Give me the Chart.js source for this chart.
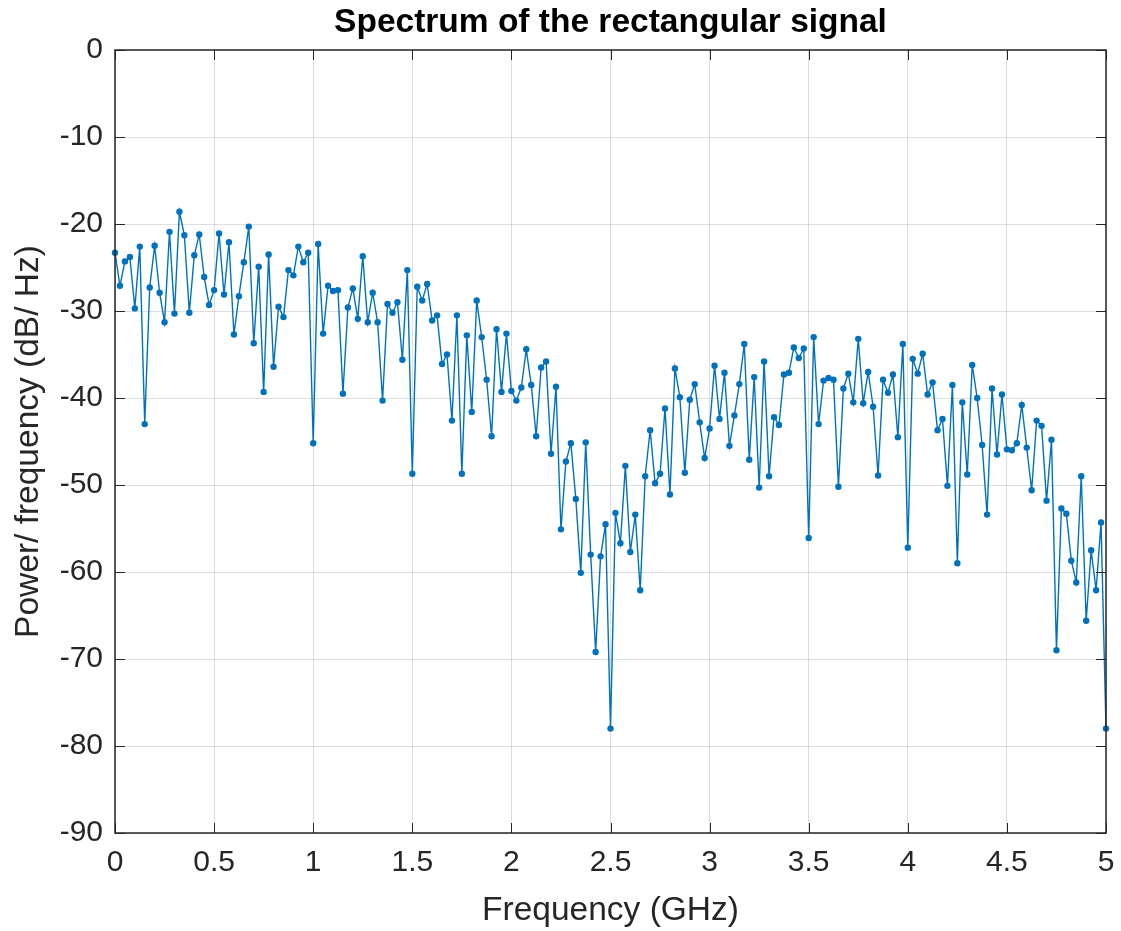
<!DOCTYPE html>
<html>
<head>
<meta charset="utf-8">
<script src="https://cdn.jsdelivr.net/npm/chart.js@4/dist/chart.umd.min.js"></script>
<style>
    html, body { margin: 0; padding: 0; background: #fff; }
    #wrap { width: 1121px; height: 931px; }
</style>
</head>
<body>
<div id="wrap"><canvas id="spec" width="1121" height="931"></canvas></div>
<script>
// frequency grid: 0 .. 5 GHz, 201 bins
const freqStart = 0;
const freqStep = 0.025;

// power spectral density (dB/Hz)
const powerDb = [
    -23.3, -27.1, -24.3, -23.8, -29.7, -22.6, -43.0, -27.3, -22.5, -27.9,
    -31.3, -20.9, -30.3, -18.6, -21.3, -30.2, -23.6, -21.2, -26.1, -29.3,
    -27.6, -21.1, -28.1, -22.1, -32.7, -28.3, -24.4, -20.3, -33.7, -24.9,
    -39.3, -23.5, -36.4, -29.5, -30.7, -25.3, -25.9, -22.6, -24.4, -23.3,
    -45.2, -22.3, -32.6, -27.1, -27.7, -27.6, -39.5, -29.6, -27.4, -30.9,
    -23.7, -31.3, -27.9, -31.3, -40.3, -29.2, -30.2, -29.0, -35.6, -25.3,
    -48.7, -27.2, -28.8, -26.9, -31.1, -30.5, -36.1, -35.0, -42.6, -30.5,
    -48.7, -32.8, -41.6, -28.8, -33.0, -37.9, -44.4, -32.1, -39.3, -32.6,
    -39.2, -40.3, -38.8, -34.4, -38.5, -44.4, -36.5, -35.8, -46.4, -38.7,
    -55.1, -47.3, -45.2, -51.6, -60.1, -45.1, -58.0, -69.2, -58.2, -54.5,
    -78.0, -53.2, -56.7, -47.8, -57.7, -53.4, -62.1, -49.0, -43.7, -49.8,
    -48.7, -41.2, -51.1, -36.6, -39.9, -48.6, -40.2, -38.4, -42.8, -46.9,
    -43.5, -36.3, -42.4, -37.1, -45.5, -42.0, -38.4, -33.8, -47.1, -37.6,
    -50.3, -35.8, -49.0, -42.2, -43.1, -37.3, -37.1, -34.2, -35.4, -34.3,
    -56.1, -33.0, -43.0, -38.0, -37.7, -37.9, -50.2, -38.9, -37.2, -40.5,
    -33.2, -40.6, -37.0, -41.0, -48.9, -37.9, -39.4, -37.3, -44.5, -33.8,
    -57.2, -35.5, -37.2, -34.9, -39.6, -38.2, -43.7, -42.4, -50.1, -38.5,
    -59.0, -40.5, -48.8, -36.2, -40.0, -45.4, -53.4, -38.9, -46.5, -39.6,
    -45.9, -46.0, -45.2, -40.8, -45.7, -50.6, -42.6, -43.2, -51.8, -44.8,
    -69.0, -52.7, -53.3, -58.7, -61.2, -49.0, -65.6, -57.5, -62.1, -54.3,
    -78.0
];

const xTicks = [0, 0.5, 1, 1.5, 2, 2.5, 3, 3.5, 4, 4.5, 5];
const yTicks = [0, -10, -20, -30, -40, -50, -60, -70, -80, -90];

const points = powerDb.map((v, i) => ({ x: +(freqStart + i * freqStep).toFixed(3), y: v }));

const FONT = "'Liberation Sans', Arial, Helvetica, sans-serif";
const INK = '#262626';

// matlab style box with inward tick marks
const boxPlugin = {
    id: 'matlabBox',
    afterDraw(chart) {
        const { ctx, chartArea: a, scales } = chart;
        const len = 10;
        ctx.save();
        ctx.strokeStyle = INK;
        ctx.lineWidth = 1;
        ctx.beginPath();
        xTicks.forEach(t => {
            const px = Math.round(scales.x.getPixelForValue(t)) + 0.5;
            ctx.moveTo(px, a.bottom); ctx.lineTo(px, a.bottom - len);
            ctx.moveTo(px, a.top); ctx.lineTo(px, a.top + len);
        });
        yTicks.forEach(t => {
            const py = Math.round(scales.y.getPixelForValue(t)) + 0.5;
            ctx.moveTo(a.left, py); ctx.lineTo(a.left + len, py);
            ctx.moveTo(a.right, py); ctx.lineTo(a.right - len, py);
        });
        ctx.stroke();
        ctx.lineWidth = 1.5;
        ctx.strokeRect(a.left, a.top, a.right - a.left, a.bottom - a.top);
        ctx.restore();
    }
};

new Chart(document.getElementById('spec'), {
    type: 'line',
    data: {
        datasets: [{
            data: points,
            borderColor: '#0072BD',
            backgroundColor: '#0072BD',
            borderWidth: 1.4,
            pointRadius: 3.2,
            pointBorderWidth: 0,
            pointHoverRadius: 3.2,
            tension: 0,
            clip: false
        }]
    },
    options: {
        responsive: false,
        animation: false,
        layout: { padding: { left: 0, right: 15, top: 0, bottom: 0 } },
        plugins: {
            legend: { display: false },
            tooltip: { enabled: false },
            title: {
                display: true,
                text: 'Spectrum of the rectangular signal',
                fullSize: false,
                color: '#000',
                font: { family: FONT, size: 33.5, weight: 'bold', lineHeight: 1.2 },
                padding: { top: 3, bottom: 6.8 }
            }
        },
        scales: {
            x: {
                type: 'linear',
                min: 0,
                max: 5,
                afterBuildTicks: s => { s.ticks = xTicks.map(v => ({ value: v })); },
                afterFit: s => { s.height = 98; s.paddingLeft = 0; s.paddingRight = 0; },
                ticks: {
                    color: INK,
                    font: { family: FONT, size: 30 },
                    padding: 12,
                    maxRotation: 0,
                    autoSkip: false,
                    callback: v => String(v)
                },
                grid: { color: 'rgba(0,0,0,0.13)', drawTicks: false, lineWidth: 1 },
                border: { display: false },
                title: {
                    display: true,
                    text: 'Frequency (GHz)',
                    color: INK,
                    font: { family: FONT, size: 33.5 },
                    padding: { top: 6, bottom: 0 }
                }
            },
            y: {
                type: 'linear',
                min: -90,
                max: 0,
                afterBuildTicks: s => { s.ticks = yTicks.map(v => ({ value: v })); },
                afterFit: s => { s.width = 115; s.paddingTop = 0; s.paddingBottom = 0; },
                ticks: {
                    color: INK,
                    font: { family: FONT, size: 30 },
                    padding: 12,
                    autoSkip: false,
                    callback: v => String(v)
                },
                grid: { color: 'rgba(0,0,0,0.13)', drawTicks: false, lineWidth: 1 },
                border: { display: false },
                title: {
                    display: true,
                    text: 'Power/ frequency (dB/ Hz)',
                    color: INK,
                    font: { family: FONT, size: 33.5 },
                    padding: { top: 9, bottom: 0 }
                }
            }
        }
    },
    plugins: [boxPlugin]
});
</script>
</body>
</html>
